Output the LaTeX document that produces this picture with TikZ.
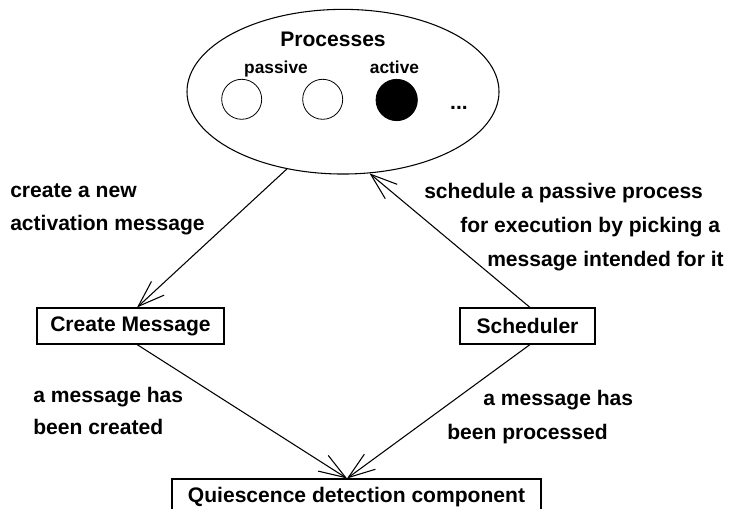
\documentclass[tikz,border=0pt]{standalone}
\usepackage{fontspec}
\setmainfont{Liberation Sans}
\usetikzlibrary{shapes.geometric,arrows.meta}
\begin{document}
\begin{tikzpicture}[x=0.75pt, y=-0.75pt, font=\fontsize{15.8}{19}\selectfont\bfseries,
    box/.style={draw, line width=0.8pt, minimum height=27pt, inner sep=0pt},
    proc/.style={draw, circle, line width=0.6pt, minimum size=30pt, inner sep=0pt},
    lbl/.style={anchor=base west, inner sep=0pt},
    small/.style={anchor=base, inner sep=0pt, font=\fontsize{13}{15}\selectfont\bfseries},
    arr/.style={line width=0.8pt, -{Straight Barb[length=20pt,width=14pt]}}]
    \clip (0, 0) rectangle (732, 509);
    \def\dx{4.9pt}
    \def\sx{1.9pt}
    \def\qx{-7.1pt}
    % processes
    \node[draw, ellipse, line width=0.8pt, minimum width=234pt, minimum height=123.5pt, inner sep=0pt] (procs) at (343, 91.7) {};
    \node[anchor=base, inner sep=0pt] (ptitle) at (333, 47) {Processes};
    \node[small] (lpassive) at (276, 74) {passive};
    \node[small] (lactive) at (394.5, 74) {active};
    \node[proc] (p1) at (241.7, 99.3) {};
    \node[proc] (p2) at (322.7, 99.3) {};
    \node[proc, fill=black, minimum size=31pt] (p3) at (396.7, 100) {};
    \node[anchor=base, inner sep=0pt] (pdots) at (459, 110) {...};
    % boxes
    \node[box, minimum width=140.25pt] (cm) at (130.5, 326) {Create Message};
    \node[box, minimum width=101.25pt] (sch) at (527.5, 326) {Scheduler};
    \node[box, minimum width=276.75pt] (qdc) at (356.5, 497) {Quiescence detection component};
    % connectors
    \draw[arr] (procs.234.6) -- ([xshift=\dx]cm.north);
    \draw[arr] ([xshift=\sx]sch.north) -- (procs.288.4);
    \draw[arr] ([xshift=\dx]cm.south) -- ([xshift=\qx]qdc.north);
    \draw[arr] ([xshift=\sx]sch.south) -- ([xshift=\qx]qdc.north);
    % labels
    \node[lbl] (c1) at (10, 198) {create a new};
    \node[lbl] (c2) at (10, 231) {activation message};
    \node[lbl] (s1) at (424, 199) {schedule a passive process};
    \node[lbl] (s2) at (460, 233) {for execution by picking a};
    \node[lbl] (s3) at (487, 267) {message intended for it};
    \node[lbl] (m1) at (33, 403) {a message has};
    \node[lbl] (m2) at (33, 435) {been created};
    \node[lbl] (m3) at (483, 406) {a message has};
    \node[lbl] (m4) at (447, 440) {been processed};
\end{tikzpicture}
\end{document}
